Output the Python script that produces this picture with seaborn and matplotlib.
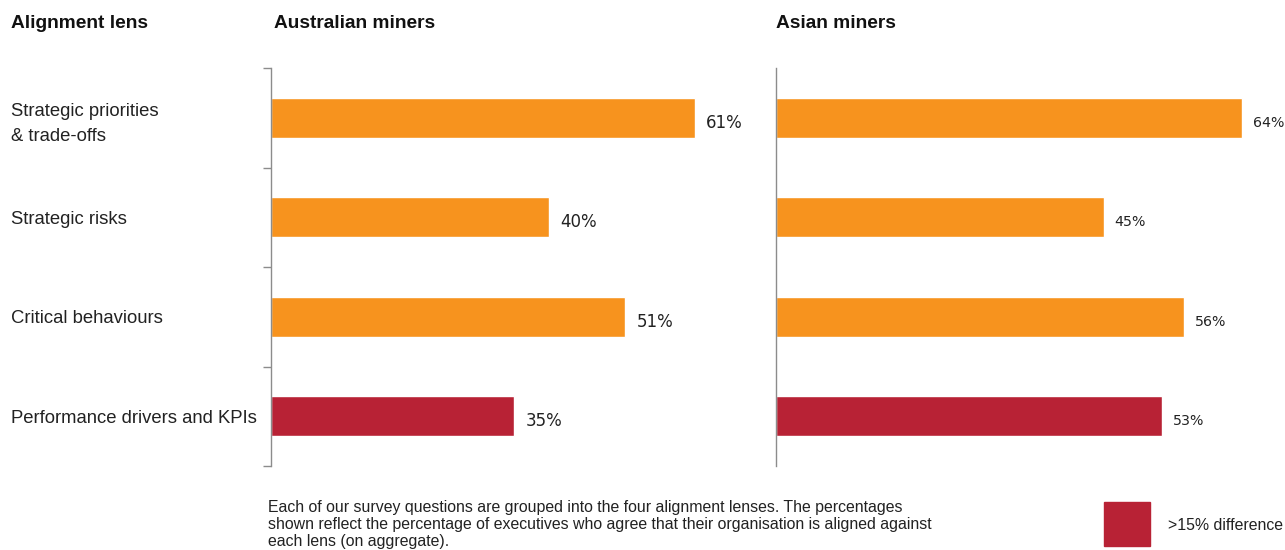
import matplotlib
matplotlib.use("Agg")
import matplotlib.pyplot as plt
import seaborn as sns
import pandas as pd

# Survey results by alignment lens
lenses = ["Strategic priorities\n& trade-offs", "Strategic risks",
          "Critical behaviours", "Performance drivers and KPIs"]
australian = [61, 40, 51, 35]
asian = [64, 45, 56, 53]
# Lenses where the gap between the two groups exceeds 15 points
big_gap = [False, False, False, True]

ORANGE = "#F7931E"
RED = "#B82235"
SPINE = "#8C8C8C"
TEXT = "#222222"

sns.set_theme(style="white")
plt.rcParams["font.family"] = ["Liberation Sans", "DejaVu Sans"]

W, H = 1285, 550
fig = plt.figure(figsize=(W / 100, H / 100), dpi=100)


def axes_rect(x0, x1, y_top, y_bot):
    return [x0 / W, 1 - y_bot / H, (x1 - x0) / W, (y_bot - y_top) / H]


ax_au = fig.add_axes(axes_rect(271, 271 + 6.95 * 70, 68, 466))
ax_as = fig.add_axes(axes_rect(776, 776 + 7.28 * 70, 68, 466))

colors = [RED if g else ORANGE for g in big_gap]

for ax, values, label_size in [(ax_au, australian, 12), (ax_as, asian, 10.2)]:
    df = pd.DataFrame({"lens": lenses, "value": values})
    sns.barplot(data=df, x="value", y="lens", hue="lens", palette=colors,
                orient="h", width=0.4, legend=False, saturation=1, ax=ax)
    ax.set_xlim(0, 70)
    ax.set_ylim(3.5, -0.5)
    ax.set_xlabel("")
    ax.set_ylabel("")
    ax.set_xticks([])
    for side in ["top", "right", "bottom"]:
        ax.spines[side].set_visible(False)
    ax.spines["left"].set_color(SPINE)
    ax.spines["left"].set_linewidth(1.0)
    ax.set_facecolor("none")
    for container in ax.containers:
        texts = ax.bar_label(container, labels=[f"{v:.0f}%" for v in container.datavalues],
                             padding=8, fontsize=label_size, color=TEXT,
                             family="DejaVu Sans")
        for t in texts:
            t.set_va("center")
            x, y = t.xyann
            t.xyann = (x, y - 3.5)

# Left panel: row boundary ticks and left-aligned lens labels
ax_au.set_yticks([i - 0.5 for i in range(len(lenses) + 1)], minor=True)
ax_au.tick_params(axis="y", which="minor", left=True, length=6, width=1.0,
                  color=SPINE, direction="out")
ax_au.set_yticks(range(len(lenses)))
ax_au.set_yticklabels(lenses, fontsize=13.3, color=TEXT)
ax_au.tick_params(axis="y", which="major", length=0, pad=187)
for lbl in ax_au.get_yticklabels():
    lbl.set_ha("left")
    lbl.set_multialignment("left")
    lbl.set_linespacing(1.6)

ax_as.set_yticks([])
ax_as.tick_params(axis="y", which="both", left=False)

# Column headers
for x, title in [(11, "Alignment lens"), (274, "Australian miners"), (776, "Asian miners")]:
    fig.text(x / W, 1 - 23 / H, title, fontsize=13.8, fontweight="bold",
             va="center", ha="left", color="#111111")

# Footnote
fig.text(268 / W, 1 - 500 / H,
         "Each of our survey questions are grouped into the four alignment lenses. The percentages\n"
         "shown reflect the percentage of executives who agree that their organisation is aligned against\n"
         "each lens (on aggregate).",
         fontsize=11.4, va="top", ha="left", color=TEXT, linespacing=1.17)

# Legend swatch
fig.patches.append(plt.Rectangle((1104 / W, 1 - 546 / H), 46 / W, 44 / H,
                                 transform=fig.transFigure, color=RED, figure=fig))
fig.text(1168 / W, 1 - 526 / H, ">15% difference", fontsize=11.4,
         va="center", ha="left", color=TEXT)

fig.savefig("out.png", dpi=100, facecolor="white")
